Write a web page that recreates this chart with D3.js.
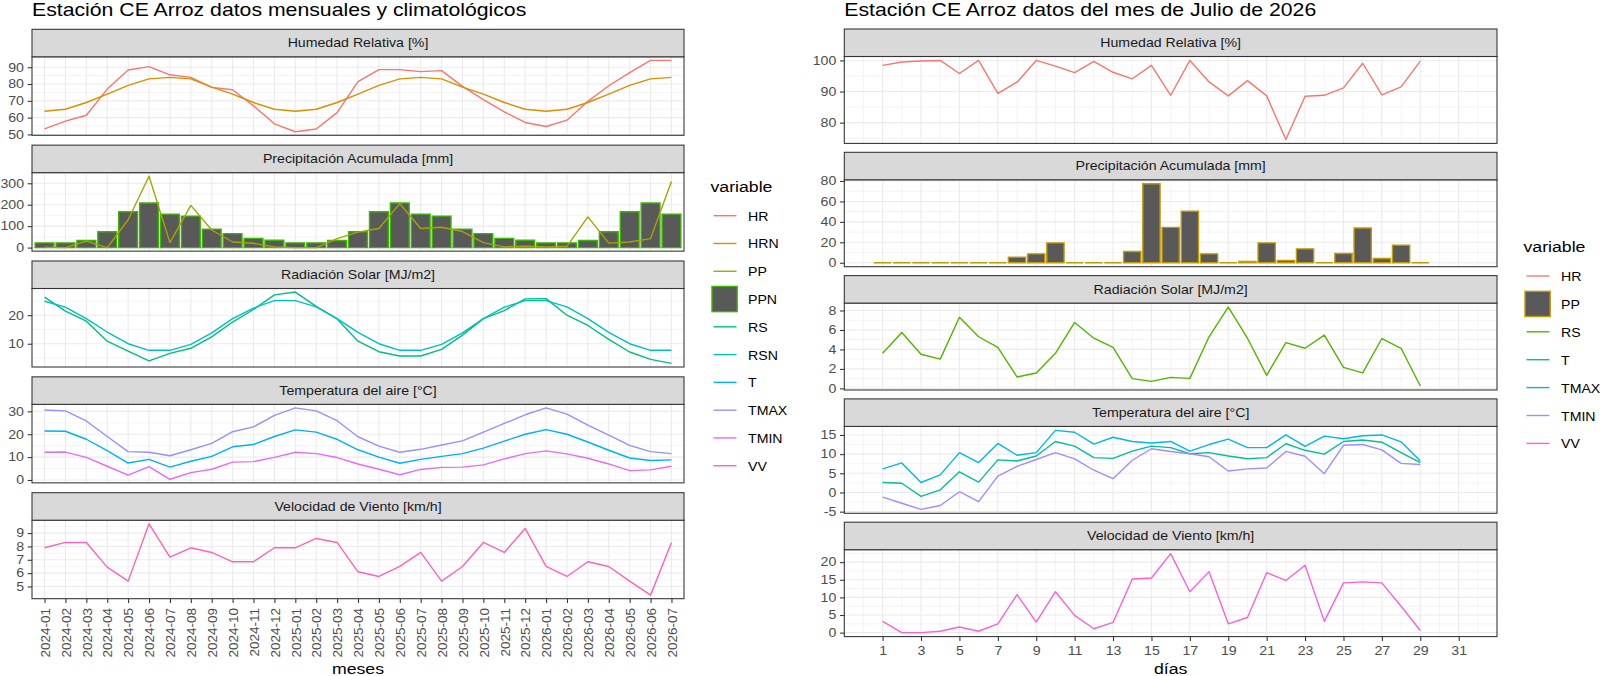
<!DOCTYPE html>
<html>
<head>
<meta charset="utf-8">
<title>Estación CE Arroz</title>
<script src="https://cdn.jsdelivr.net/npm/d3@7"></script>
<style>body { margin: 0; background: #fff; }</style>
</head>
<body>
<svg width="1600" height="676" id="mainsvg"></svg>
<script>
// ---- datos mensuales ----
const meses = ['2024-01','2024-02','2024-03','2024-04','2024-05','2024-06','2024-07','2024-08','2024-09','2024-10','2024-11','2024-12',
               '2025-01','2025-02','2025-03','2025-04','2025-05','2025-06','2025-07','2025-08','2025-09','2025-10','2025-11','2025-12',
               '2026-01','2026-02','2026-03','2026-04','2026-05','2026-06','2026-07'];
const hrMes   = [53.3,57.9,61.4,77,88.4,90.4,85.5,84,78,76.6,67,56.3,51.6,53.2,63,81.5,88.6,88.6,87.4,88,78.6,70.7,63.4,57.1,54.7,58.5,69.7,79,86.8,94.1,94.1];
const hrnMes  = [63.8,65,69,74,79.2,83.1,84,83.1,78.2,74,69,65,63.8,65,69,74,79.2,83.1,84,83.1,78.2,74,69,65,63.8,65,69,74,79.2,83.1,84];
const ppMes   = [2,0,30,0,130,333,23,197,82,26,20,3,0,0,42,72,89,205,89,95,75,23,3,6,3,6,143,21,26,42,308];
const ppnMes  = [22,22,33,74,167,208,156,147,86,65,43,34,22,22,33,74,167,208,156,147,86,65,43,34,22,22,33,74,167,208,156];
const rsMes   = [26.3,21.4,17.9,10.9,7.4,4.0,6.6,8.4,12.4,17.6,22,27.1,28.1,23.1,18.7,10.9,7.2,5.7,5.7,8.0,13,18.8,21.6,25.7,25.8,20,16.4,11.5,7.1,4.5,3.1];
const rsnMes  = [24.9,22.8,18.8,14.1,10,7.7,7.7,9.8,13.8,18.8,22.5,25.1,25.1,22.9,18.8,14,10,7.7,7.7,9.8,13.8,18.8,22.8,25.1,25.1,22.9,18.8,14,10,7.7,7.7];
const tMes    = [21.4,21.3,17.8,12.8,7.4,9.0,5.6,8.2,10.3,14.5,15.5,19,21.9,20.9,17.8,13.2,10,7.3,9,10.3,11.5,13.9,17,20,22,20,16.6,13,9.6,8.5,8.8];
const tmaxMes = [30.6,30.2,25.8,19,12.4,12.1,10.6,13.2,16,21.1,23.2,28.2,31.5,30.2,25.9,18.9,14.8,12.1,13.4,15.3,17.1,20.9,24.7,28.5,31.5,28.8,24,19.6,15.1,12.4,11.5];
const tminMes = [12.1,12.2,9.9,6,2.1,5.8,0.3,3.2,4.7,7.8,8,9.9,12.1,11.5,9.8,7,4.7,2.3,4.6,5.5,5.6,6.6,9.2,11.5,12.7,11.4,9.5,7,4.1,4.4,6];
const vvMes   = [7.9,8.3,8.3,6.45,5.4,9.7,7.2,7.9,7.55,6.85,6.85,7.9,7.9,8.6,8.3,6.1,5.75,6.5,7.55,5.4,6.5,8.3,7.55,9.35,6.5,5.75,6.85,6.5,5.4,4.35,8.3];

// ---- datos diarios (julio 2026) ----
const dias    = [1,2,3,4,5,6,7,8,9,10,11,12,13,14,15,16,17,18,19,20,21,22,23,24,25,26,27,28,29];
const diasDelMes = 31;
const hrDia   = [98.4,99.5,99.8,100,95.8,100,89.4,93,100,98.2,96.1,99.7,96.2,94.1,98.4,88.8,100,93.1,88.6,93.5,88.6,74.6,88.5,88.8,91.2,99.1,88.9,91.5,99.8];
const ppDia   = [0,0,0,0,0,0,0,5.5,8.7,19.4,0,0,0,11,77.3,34.6,50.5,8.7,0,1.3,19.4,2.3,13.6,0,9,34,4.2,17.2,0];
const rsDia   = [3.6,5.74,3.5,3.0,7.3,5.3,4.2,1.17,1.58,3.6,6.77,5.15,4.2,1.0,0.72,1.13,1.03,5.3,8.35,5.15,1.34,4.7,4.12,5.46,2.16,1.6,5.12,4.12,0.24];
const tDia    = [2.6,2.4,-1,0.7,5.4,2.7,8.5,8.2,9.5,13.3,12.1,9.1,8.9,10.8,12.1,11.7,10.1,10.4,9.5,8.8,9.1,12.7,11,10,13.3,13.7,13.1,10.4,7.8];
const tmaxDia = [6.15,7.7,2.6,4.6,10.4,7.8,12.8,9.7,10.4,16.2,15.7,12.6,14.4,13.3,12.9,13.3,10.8,12.5,13.9,11.7,11.7,15,12,14.7,14,14.8,15,13.2,8.2];
const tminDia = [-1.2,-2.8,-4.4,-3.4,0.2,-2.4,4.25,6.8,8.6,10.4,8.75,5.8,3.6,8.4,11.4,10.7,10.1,9.3,5.6,6.15,6.4,10.7,9.45,4.9,12.3,12.5,11.1,7.6,7.3];
const vvDia   = [3.2,0,0,0.4,1.6,0.4,2.5,10.8,3,11.6,4.9,1.1,2.9,15.2,15.5,22.4,11.6,17.3,2.5,4.3,17,14.8,19.1,3.2,14.1,14.4,14.1,7.5,0.6];

// ---- marcas de los ejes ----
const ticksHrMes = [50,60,70,80,90];
const ticksPpMes = [0,100,200,300];
const ticksRsMes = [10,20];
const ticksTMes  = [0,10,20,30];
const ticksVvMes = [5,6,7,8,9];
const ticksHrDia = [80,90,100];
const ticksPpDia = [0,20,40,60,80];
const ticksRsDia = [0,2,4,6,8];
const ticksTDia  = [-5,0,5,10,15];
const ticksVvDia = [0,5,10,15,20];
const ticksDias  = [1,3,5,7,9,11,13,15,17,19,21,23,25,27,29,31];

const varsMes = ['HR','HRN','PP','PPN','RS','RSN','T','TMAX','TMIN','VV'];
const varsDia = ['HR','PP','RS','T','TMAX','TMIN','VV'];

// colores por defecto de ggplot (hue) para 10 y 7 niveles
const colMes = {HR:'#F8766D', HRN:'#D89000', PP:'#A3A500', PPN:'#39B600', RS:'#00BF7D', RSN:'#00BFC4', T:'#00B0F6', TMAX:'#9590FF', TMIN:'#E76BF3', VV:'#FF62BC'};
const colDia = {HR:'#F8766D', PP:'#C49A00', RS:'#53B400', T:'#00C094', TMAX:'#00B6EB', TMIN:'#A58AFF', VV:'#FB61D7'};

const svg = d3.select('#mainsvg');
const FUENTE = "'Liberation Sans', Arial, sans-serif";
const SX = 1.18;   // el texto de la referencia sale mas ancho que alto
const GRIS_BORDE = '#333333';

const izq = { x0: 32, x1: 684, top: 29.3, paso: 115.85, stripH: 27.5, panelH: 78.5 };
const der = { x0: 844.3, x1: 1497, top: 29, paso: 123.3, stripH: 27.5, panelH: 86.9 };

function texto(g, x, y, s, size, anchor, fill) {
    return g.append('g').attr('transform', `translate(${x},${y}) scale(${SX},1)`)
        .append('text').attr('font-family', FUENTE).attr('font-size', size)
        .attr('text-anchor', anchor).attr('fill', fill).text(s);
}

function dominio(vals) {
    const [a, b] = d3.extent(vals);
    const p = (b - a) * 0.05;
    return [a - p, b + p];
}

function menores(ticks, dom) {
    const st = ticks[1] - ticks[0];
    const out = [];
    for (let v = ticks[0] - st / 2; v <= dom[1]; v += st) if (v >= dom[0]) out.push(v);
    return out;
}

function panel(cfg, i, p, col, pos, ancho, gridX) {
    const g = svg.append('g');
    const top = cfg.top + i * cfg.paso;
    const y0 = top + cfg.stripH, y1 = y0 + cfg.panelH;

    const todos = [].concat(...p.series.map(s => s[1]), p.barras ? p.barras[1].concat([0]) : []);
    const y = d3.scaleLinear().domain(dominio(todos)).range([y1, y0]);

    // fondo y rejilla
    g.append('rect').attr('x', cfg.x0).attr('y', y0).attr('width', cfg.x1 - cfg.x0).attr('height', cfg.panelH).attr('fill', '#fff');
    const grid = g.append('g').attr('stroke', '#EBEBEB');
    grid.selectAll('.hmin').data(menores(p.ticks, y.domain())).join('line')
        .attr('x1', cfg.x0).attr('x2', cfg.x1).attr('y1', d => y(d)).attr('y2', d => y(d)).attr('stroke-width', 0.55);
    grid.selectAll('.vmin').data(gridX.menor).join('line')
        .attr('x1', d => d).attr('x2', d => d).attr('y1', y0).attr('y2', y1).attr('stroke-width', 0.55);
    grid.append('g').selectAll('line').data(p.ticks).join('line')
        .attr('x1', cfg.x0).attr('x2', cfg.x1).attr('y1', d => y(d)).attr('y2', d => y(d)).attr('stroke-width', 1.1);
    grid.append('g').selectAll('line').data(gridX.mayor).join('line')
        .attr('x1', d => d).attr('x2', d => d).attr('y1', y0).attr('y2', y1).attr('stroke-width', 1.1);

    // barras
    if (p.barras) {
        const [v, vals] = p.barras;
        g.append('g').selectAll('path').data(vals).join('path')
            .attr('d', (d, j) => {
                const xa = pos(j) - ancho / 2, ya = y(0), yb = y(d);
                return `M${xa},${ya}H${xa + ancho}V${yb}H${xa}Z`;
            })
            .attr('fill', '#595959').attr('stroke', col[v]).attr('stroke-width', 1.4);
    }
    // lineas
    const linea = d3.line().x((d, j) => pos(j)).y(d => y(d));
    p.series.forEach(([v, vals]) => {
        g.append('path').datum(vals).attr('d', linea)
            .attr('fill', 'none').attr('stroke', col[v]).attr('stroke-width', 1.4).attr('stroke-linejoin', 'round');
    });

    // borde del panel
    g.append('rect').attr('x', cfg.x0).attr('y', y0).attr('width', cfg.x1 - cfg.x0).attr('height', cfg.panelH)
        .attr('fill', 'none').attr('stroke', GRIS_BORDE).attr('stroke-width', 1.07);

    // franja
    g.append('rect').attr('x', cfg.x0).attr('y', top).attr('width', cfg.x1 - cfg.x0).attr('height', cfg.stripH)
        .attr('fill', '#D9D9D9').attr('stroke', GRIS_BORDE).attr('stroke-width', 1.07);
    texto(g, (cfg.x0 + cfg.x1) / 2, top + cfg.stripH / 2 + 4.3, p.titulo, 12, 'middle', '#1A1A1A');

    // eje y
    const ejeY = g.append('g').attr('transform', `translate(${cfg.x0},0)`)
        .call(d3.axisLeft(y).tickValues(p.ticks).tickSize(4.3).tickFormat(d => String(d)));
    ejeY.select('.domain').remove();
    ejeY.selectAll('.tick line').attr('stroke', GRIS_BORDE).attr('stroke-width', 1.07);
    ejeY.selectAll('.tick text').attr('x', 0).attr('transform', `translate(-8,0) scale(${SX},1)`)
        .attr('font-family', FUENTE).attr('font-size', 12).attr('fill', '#4D4D4D');
    return y1;
}

// ---- izquierda: datos mensuales ----
const xMes = d3.scalePoint().domain(meses).range([izq.x0, izq.x1]).padding(0.6);
const posMes = j => xMes(meses[j]);
const anchoMes = xMes.step() * 0.9;
const gridMes = { mayor: meses.map(m => xMes(m)), menor: [] };

const panelesMes = [
    { titulo: 'Humedad Relativa [%]', ticks: ticksHrMes, series: [['HR', hrMes], ['HRN', hrnMes]] },
    { titulo: 'Precipitación Acumulada [mm]', ticks: ticksPpMes, barras: ['PPN', ppnMes], series: [['PP', ppMes]] },
    { titulo: 'Radiación Solar [MJ/m2]', ticks: ticksRsMes, series: [['RS', rsMes], ['RSN', rsnMes]] },
    { titulo: 'Temperatura del aire [°C]', ticks: ticksTMes, series: [['T', tMes], ['TMAX', tmaxMes], ['TMIN', tminMes]] },
    { titulo: 'Velocidad de Viento [km/h]', ticks: ticksVvMes, series: [['VV', vvMes]] }
];
let fondoMes = 0;
panelesMes.forEach((p, i) => { fondoMes = panel(izq, i, p, colMes, posMes, anchoMes, gridMes); });

const ejeXMes = svg.append('g').attr('transform', `translate(0,${fondoMes})`)
    .call(d3.axisBottom(xMes).tickSize(4.3));
ejeXMes.select('.domain').remove();
ejeXMes.selectAll('.tick line').attr('stroke', GRIS_BORDE).attr('stroke-width', 1.07);
ejeXMes.selectAll('.tick text').attr('y', 0).attr('x', -9.3).attr('dy', '0.35em')
    .attr('transform', 'rotate(-90)').attr('text-anchor', 'end')
    .attr('font-family', FUENTE).attr('font-size', 13.5).attr('fill', '#4D4D4D');

// ---- derecha: datos diarios ----
const limD = [1 - 0.45, diasDelMes + 0.45];
const padD = (limD[1] - limD[0]) * 0.05;
const xDia = d3.scaleLinear().domain([limD[0] - padD, limD[1] + padD]).range([der.x0, der.x1]);
const posDia = j => xDia(dias[j]);
const anchoDia = xDia(0.9) - xDia(0);
const gridDia = {
    mayor: ticksDias.map(d => xDia(d)),
    menor: ticksDias.map(d => d - 1).concat([ticksDias[ticksDias.length - 1] + 1]).map(d => xDia(d))
};

const panelesDia = [
    { titulo: 'Humedad Relativa [%]', ticks: ticksHrDia, series: [['HR', hrDia]] },
    { titulo: 'Precipitación Acumulada [mm]', ticks: ticksPpDia, barras: ['PP', ppDia], series: [] },
    { titulo: 'Radiación Solar [MJ/m2]', ticks: ticksRsDia, series: [['RS', rsDia]] },
    { titulo: 'Temperatura del aire [°C]', ticks: ticksTDia, series: [['T', tDia], ['TMAX', tmaxDia], ['TMIN', tminDia]] },
    { titulo: 'Velocidad de Viento [km/h]', ticks: ticksVvDia, series: [['VV', vvDia]] }
];
let fondoDia = 0;
panelesDia.forEach((p, i) => { fondoDia = panel(der, i, p, colDia, posDia, anchoDia, gridDia); });

const ejeXDia = svg.append('g').attr('transform', `translate(0,${fondoDia})`)
    .call(d3.axisBottom(xDia).tickValues(ticksDias).tickSize(4.3));
ejeXDia.select('.domain').remove();
ejeXDia.selectAll('.tick line').attr('stroke', GRIS_BORDE).attr('stroke-width', 1.07);
ejeXDia.selectAll('.tick text').attr('y', 10).attr('transform', `scale(${SX},1)`)
    .attr('font-family', FUENTE).attr('font-size', 12).attr('fill', '#4D4D4D');

// ---- titulos ----
texto(svg, izq.x0, 16, 'Estación CE Arroz datos mensuales y climatológicos', 18, 'start', '#000');
texto(svg, der.x0, 16, 'Estación CE Arroz datos del mes de Julio de 2026', 18, 'start', '#000');
texto(svg, (izq.x0 + izq.x1) / 2, 674, 'meses', 15, 'middle', '#000');
texto(svg, (der.x0 + der.x1) / 2, 674, 'días', 15, 'middle', '#000');

// ---- leyendas ----
function leyenda(x, yTitulo, yPrimero, paso, vars, col, caja) {
    const g = svg.append('g');
    texto(g, x, yTitulo, 'variable', 15, 'start', '#000');
    vars.forEach((v, i) => {
        const cy = yPrimero + i * paso;
        if (v === caja) {
            g.append('rect').attr('x', x + 1.5).attr('y', cy - 12.6).attr('width', 25.2).attr('height', 25.2)
                .attr('fill', '#595959').attr('stroke', col[v]).attr('stroke-width', 1.4);
        } else {
            g.append('line').attr('x1', x + 3).attr('x2', x + 26).attr('y1', cy).attr('y2', cy)
                .attr('stroke', col[v]).attr('stroke-width', 1.4);
        }
        texto(g, x + 37.5, cy + 5, v, 12, 'start', '#000');
    });
}
leyenda(710.5, 191.7, 215.7, 27.78, varsMes, colMes, 'PPN');
leyenda(1523.5, 251.7, 276, 27.9, varsDia, colDia, 'PP');
</script>
</body>
</html>
